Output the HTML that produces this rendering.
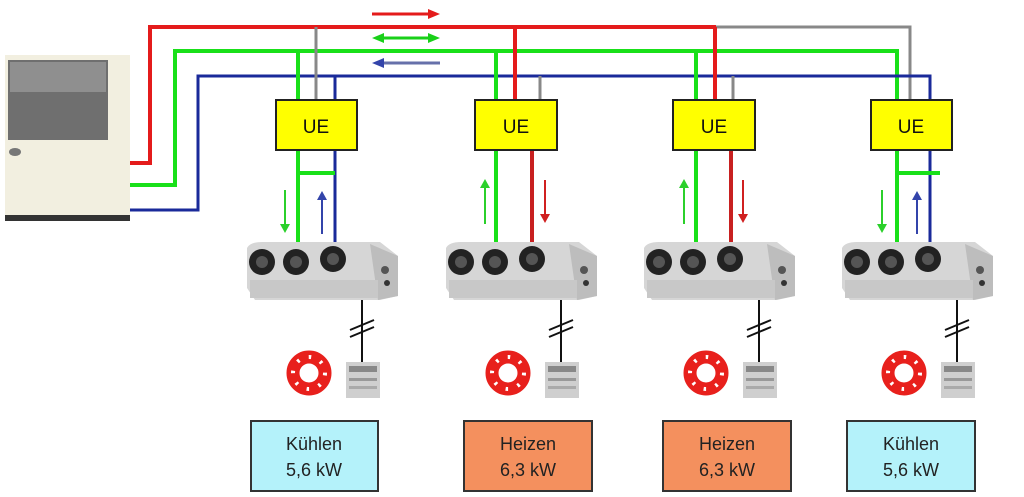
<!DOCTYPE html>
<html><head><meta charset="utf-8"><style>
html,body{margin:0;padding:0;background:#fff;width:1024px;height:497px;overflow:hidden}
svg{display:block}
text{font-family:"Liberation Sans",sans-serif}
</style></head><body>
<svg width="1024" height="497" viewBox="0 0 1024 497" xmlns="http://www.w3.org/2000/svg">
<defs>
<g id="iu">
  <path d="M247 248 Q250 242 262 242 L380 242 L398 256 L398 296 L380 300 L255 300 L247 288 Z" fill="#d6d6d6"/>
  <path d="M370 244 L398 256 L398 296 L378 300 Z" fill="#bdbdbd"/>
  <rect x="250" y="280" width="128" height="18" fill="#c8c8c8"/>
  <circle cx="262" cy="262" r="13" fill="#222"/><circle cx="262" cy="262" r="6" fill="#555"/>
  <circle cx="296" cy="262" r="13" fill="#222"/><circle cx="296" cy="262" r="6" fill="#555"/>
  <circle cx="333" cy="259" r="13" fill="#222"/><circle cx="333" cy="259" r="6" fill="#555"/>
  <circle cx="385" cy="270" r="4" fill="#555"/><circle cx="387" cy="283" r="3" fill="#333"/>
  <line x1="362" y1="300" x2="362" y2="366" stroke="#111" stroke-width="2"/>
  <line x1="350" y1="330" x2="374" y2="320" stroke="#111" stroke-width="2"/>
  <line x1="350" y1="337" x2="374" y2="327" stroke="#111" stroke-width="2"/>
  <rect x="346" y="362" width="34" height="36" fill="#cfcfcf"/>
  <rect x="349" y="366" width="28" height="6" fill="#888"/>
  <rect x="349" y="378" width="28" height="3" fill="#999"/>
  <rect x="349" y="386" width="28" height="3" fill="#aaa"/>
  <circle cx="309" cy="373" r="16" fill="none" stroke="#e8201c" stroke-width="13"/>
  <circle cx="309" cy="373" r="16" fill="none" stroke="#fff" stroke-width="4" stroke-dasharray="2.5 10"/>
</g>
</defs>
<!-- outdoor unit -->
<rect x="5" y="55" width="125" height="165" fill="#f2efe0"/>
<rect x="8" y="60" width="100" height="80" fill="#6f6f6f"/>
<rect x="10" y="62" width="96" height="30" fill="#8f8f8f"/>
<ellipse cx="15" cy="152" rx="6" ry="4" fill="#777"/>
<rect x="5" y="215" width="125" height="6" fill="#333"/>
<!-- main lines -->
<g fill="none" stroke-width="4">
<polyline points="130,163 150,163 150,27 716,27" stroke="#e41b1b"/>
<polyline points="716,27 910,27 910,100" stroke="#888" stroke-width="3"/>
<polyline points="130,185 175,185 175,51 897,51 897,245" stroke="#19e019"/>
<polyline points="130,210 198,210 198,76 930,76 930,242" stroke="#1a2a9a" stroke-width="3"/>
<line x1="298" y1="51" x2="298" y2="245" stroke="#19e019"/>
<line x1="316" y1="27" x2="316" y2="100" stroke="#888" stroke-width="3"/>
<line x1="335" y1="76" x2="335" y2="242" stroke="#1a2a9a" stroke-width="3"/>
<line x1="298" y1="173" x2="335" y2="173" stroke="#19e019"/>
<line x1="496" y1="51" x2="496" y2="248" stroke="#19e019"/>
<line x1="515" y1="27" x2="515" y2="100" stroke="#e41b1b"/>
<line x1="540" y1="76" x2="540" y2="100" stroke="#888" stroke-width="3"/>
<line x1="532" y1="150" x2="532" y2="242" stroke="#c82020"/>
<line x1="696" y1="51" x2="696" y2="248" stroke="#19e019"/>
<line x1="715" y1="27" x2="715" y2="100" stroke="#e41b1b"/>
<line x1="733" y1="76" x2="733" y2="100" stroke="#888" stroke-width="3"/>
<line x1="731" y1="150" x2="731" y2="242" stroke="#c82020"/>
<line x1="897" y1="173" x2="940" y2="173" stroke="#19e019"/>
</g>
<g stroke-width="2">
<line x1="285" y1="190" x2="285" y2="226" stroke="#2bd02b"/><path d="M280 224 L290 224 L285 233 Z" fill="#2bd02b"/>
<line x1="322" y1="198" x2="322" y2="234" stroke="#3344aa"/><path d="M317 200 L327 200 L322 191 Z" fill="#3344aa"/>
<line x1="485" y1="186" x2="485" y2="224" stroke="#2bd02b"/><path d="M480 188 L490 188 L485 179 Z" fill="#2bd02b"/>
<line x1="545" y1="180" x2="545" y2="216" stroke="#d02020"/><path d="M540 214 L550 214 L545 223 Z" fill="#d02020"/>
<line x1="684" y1="186" x2="684" y2="224" stroke="#2bd02b"/><path d="M679 188 L689 188 L684 179 Z" fill="#2bd02b"/>
<line x1="743" y1="180" x2="743" y2="216" stroke="#d02020"/><path d="M738 214 L748 214 L743 223 Z" fill="#d02020"/>
<line x1="882" y1="190" x2="882" y2="226" stroke="#2bd02b"/><path d="M877 224 L887 224 L882 233 Z" fill="#2bd02b"/>
<line x1="917" y1="198" x2="917" y2="234" stroke="#3344aa"/><path d="M912 200 L922 200 L917 191 Z" fill="#3344aa"/>
<line x1="372" y1="14" x2="430" y2="14" stroke="#e41b1b" stroke-width="3"/><path d="M428 9 L440 14 L428 19 Z" fill="#e41b1b"/>
<line x1="382" y1="38" x2="430" y2="38" stroke="#19d019" stroke-width="3"/><path d="M428 33 L440 38 L428 43 Z M384 33 L372 38 L384 43 Z" fill="#19d019"/>
<line x1="382" y1="63" x2="440" y2="63" stroke="#6670aa" stroke-width="3"/><path d="M384 58 L372 63 L384 68 Z" fill="#3344aa"/>
</g>
<g fill="#ffff00" stroke="#222" stroke-width="2">
<rect x="276" y="100" width="81" height="50"/>
<rect x="475" y="100" width="82" height="50"/>
<rect x="673" y="100" width="82" height="50"/>
<rect x="871" y="100" width="81" height="50"/>
</g>
<g font-size="19" text-anchor="middle" fill="#111">
<text x="316" y="133">UE</text><text x="516" y="133">UE</text><text x="714" y="133">UE</text><text x="911" y="133">UE</text>
</g>
<use href="#iu"/>
<use href="#iu" transform="translate(199,0)"/>
<use href="#iu" transform="translate(397,0)"/>
<use href="#iu" transform="translate(595,0)"/>
<g stroke="#333" stroke-width="2">
<rect x="251" y="421" width="127" height="70" fill="#b4f2fa"/>
<rect x="464" y="421" width="128" height="70" fill="#f4905e"/>
<rect x="663" y="421" width="128" height="70" fill="#f4905e"/>
<rect x="847" y="421" width="128" height="70" fill="#b4f2fa"/>
</g>
<g font-size="18" text-anchor="middle" fill="#222">
<text x="314" y="450">Kühlen</text><text x="314" y="476">5,6 kW</text>
<text x="528" y="450">Heizen</text><text x="528" y="476">6,3 kW</text>
<text x="727" y="450">Heizen</text><text x="727" y="476">6,3 kW</text>
<text x="911" y="450">Kühlen</text><text x="911" y="476">5,6 kW</text>
</g>
</svg>
</body></html>
